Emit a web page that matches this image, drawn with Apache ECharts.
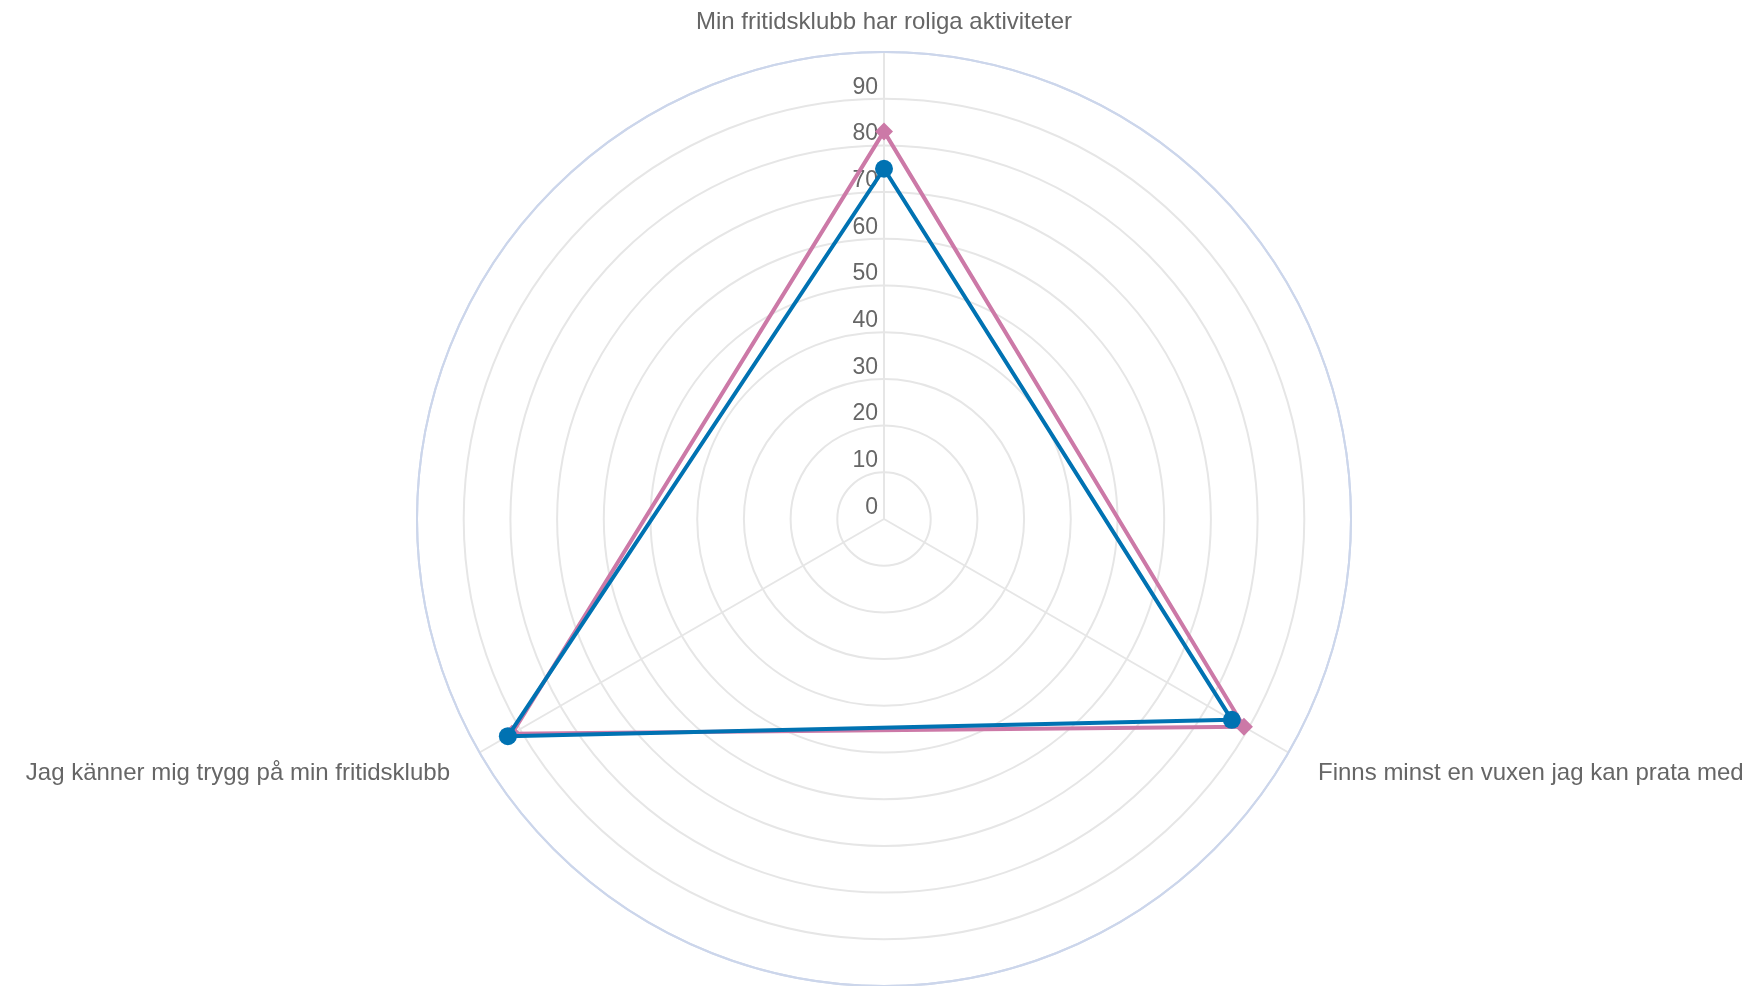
<!DOCTYPE html>
<html><head><meta charset="utf-8">
<script src="https://cdn.jsdelivr.net/npm/echarts@6/dist/echarts.min.js"></script>
<style>html,body{margin:0;padding:0;background:#fff}#c{width:1755px;height:986px}</style>
</head><body><div id="c"></div>
<script>
const categories = ['Min fritidsklubb har roliga aktiviteter', 'Finns minst en vuxen jag kan prata med', 'Jag känner mig trygg på min fritidsklubb'];
const seriesPinkValues = [83, 89, 92];
const seriesBlueValues = [75, 86, 93];
const tickValues = [0, 10, 20, 30, 40, 50, 60, 70, 80, 90];

function closed(vals) {
  const d = vals.map((v, i) => [v, i]);
  d.push({ value: [vals[0], categories.length], symbol: 'none' });
  return d;
}

const chart = echarts.init(document.getElementById('c'));
const font = 'Liberation Sans, Arial, Helvetica, sans-serif';
chart.setOption({
  animation: false,
  polar: { center: [884, 519], radius: 467 },
  angleAxis: {
    type: 'value', min: 0, max: categories.length, interval: 1, startAngle: 90, clockwise: true,
    axisLine: { show: true, lineStyle: { color: '#ccd6eb', width: 2 } },
    axisTick: { show: false },
    axisLabel: { color: '#666666', fontSize: 24, fontFamily: font, margin: 18, padding: [0, 14, 0, 14],
      formatter: v => (v < categories.length ? categories[v] : '') },
    splitLine: { show: true, lineStyle: { color: '#e6e6e6', width: 2 } }
  },
  radiusAxis: {
    min: 0, max: 100, interval: 10,
    axisLine: { show: false }, axisTick: { show: false },
    axisLabel: {
      color: '#666666', fontSize: 23, fontFamily: font, margin: 6, verticalAlign: 'bottom',
      formatter: v => tickValues.includes(v) ? String(v) : ''
    },
    splitLine: { show: true, lineStyle: { color: ['#e6e6e6','#e6e6e6','#e6e6e6','#e6e6e6','#e6e6e6','#e6e6e6','#e6e6e6','#e6e6e6','#e6e6e6','#e6e6e6','#ccd6eb'], width: 2 } }
  },
  series: [
    { type: 'line', coordinateSystem: 'polar', data: closed(seriesPinkValues),
      symbol: 'diamond', symbolSize: 18, color: '#CC79A7',
      lineStyle: { width: 4, color: '#CC79A7' }, itemStyle: { color: '#CC79A7' }, z: 2 },
    { type: 'line', coordinateSystem: 'polar', data: closed(seriesBlueValues),
      symbol: 'circle', symbolSize: 18, color: '#0072B2',
      lineStyle: { width: 4, color: '#0072B2' }, itemStyle: { color: '#0072B2' }, z: 3 }
  ]
});
</script></body></html>
